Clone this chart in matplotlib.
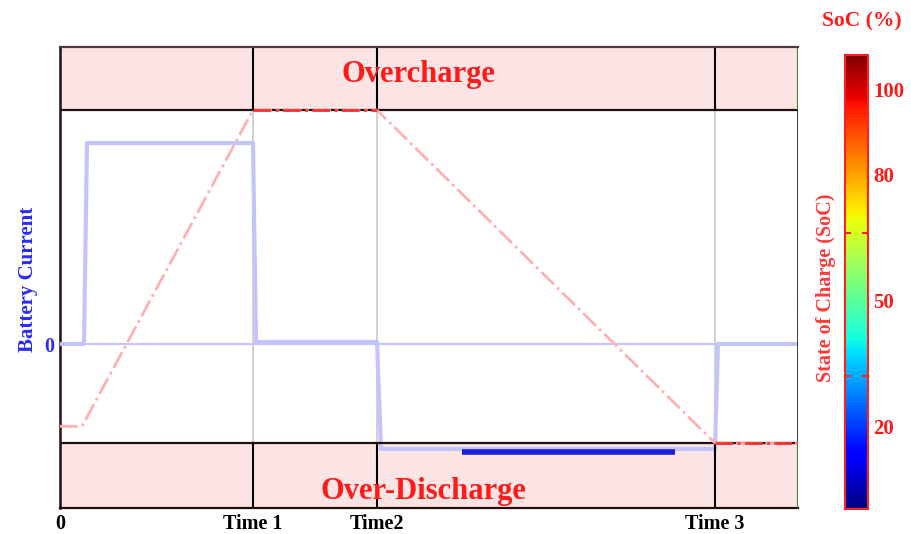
import numpy as np
import matplotlib

matplotlib.use("Agg")
import matplotlib.pyplot as plt
from matplotlib.colors import Normalize

plt.rcParams["font.family"] = ["Liberation Serif", "DejaVu Serif"]
plt.rcParams["font.weight"] = "bold"

# ---- data ----
time_marks = [0, 1.93, 3.17, 6.55]
time_labels = ["0", "Time 1", "Time2", "Time 3"]
t_end = 7.38

# battery current (normalised, charge = +1)
cur_t = [0, 0.24, 0.27, 1.93, 1.96, 3.17, 3.21, 6.55, 6.58, 7.38]
cur_i = [0, 0, 1.0, 1.0, 0.01, 0.01, -0.522, -0.522, 0.0, 0.0]
deep_t = [4.02, 6.15]
deep_i = [-0.535, -0.535]

# state of charge (%)
soc_t = [0, 0.22, 1.93, 3.17, 6.55, 7.38]
soc_v = [24, 24, 100, 100, 20, 20]
soc_hi, soc_lo = 100, 20

# colorbar
cbar_ticks = [20, 50, 80, 100]
cbar_marks = [32, 66, 100]
cbar_range = (0.5, 108.3)

# current-axis limits: plot area and the two warning bands
i_plot_top, i_plot_bot = 1.164, -0.4925
i_ax_top, i_ax_bot = 1.478, -0.816

band_face = "#fde4e4"
cur_color = "#c4c4fc"
soc_color = "#ffb0b0"

fig = plt.figure(figsize=(9.12, 5.34), dpi=100)
ax = fig.add_axes([0.0658, 0.0487, 0.8092, 0.8633])
ax.set_xlim(0, t_end)
ax.set_ylim(i_ax_bot, i_ax_top)

# warning bands
ax.axhspan(i_plot_top, i_ax_top, facecolor=band_face, edgecolor="none", zorder=0)
ax.axhspan(i_ax_bot, i_plot_bot, facecolor=band_face, edgecolor="none", zorder=0)
for y in (i_plot_top, i_plot_bot):
    ax.axhline(y, color="#201010", lw=1.6, zorder=4)

# vertical time markers: gray in plot area, black in bands
for t in time_marks[1:]:
    ax.vlines(t, i_plot_bot, i_plot_top, color="#c8c8c8", lw=1.2, zorder=1)
    ax.vlines(t, i_plot_top, i_ax_top, color="black", lw=1.5, zorder=4)
    ax.vlines(t, i_ax_bot, i_plot_bot, color="black", lw=1.5, zorder=4)
ax.vlines(t_end, i_plot_bot, i_plot_top, color="black", lw=1.8, zorder=4)
ax.vlines(t_end, i_plot_top, i_ax_top, color="#3a8a2a", lw=1.5, zorder=4)
ax.vlines(t_end, i_ax_bot, i_plot_bot, color="#3a8a2a", lw=1.5, zorder=4)

# zero line and current trace
ax.axhline(0, color=cur_color, lw=1.5, zorder=2)
ax.plot(cur_t, cur_i, color=cur_color, lw=3, zorder=3, solid_joinstyle="round")
ax.plot(deep_t, deep_i, color="#1c1cdc", lw=4, zorder=3, solid_capstyle="butt")

for s in ("top", "right"):
    ax.spines[s].set_visible(False)
ax.spines["left"].set_linewidth(1.8)
ax.spines["left"].set_color("#201010")
ax.spines["bottom"].set_linewidth(1.6)
ax.spines["bottom"].set_color("#201010")
ax.plot([0, t_end], [i_ax_top, i_ax_top], color="#503838", lw=1.6, zorder=4, clip_on=False)

ax.set_xticks(time_marks)
ax.set_xticklabels(time_labels, fontsize=14.5, fontweight="bold")
ax.set_yticks([0])
ax.set_yticklabels(["0"], fontsize=14.5, fontweight="bold", color="#2a2aff")
ax.tick_params(length=0, pad=4)
ax.set_ylabel("Battery Current", color="#2a2aff", fontsize=15, fontweight="bold")
ax.yaxis.set_label_coords(-0.03, 0.497)

ax.text(t_end * 0.486, (i_plot_top + i_ax_top) / 2 + 0.02, "Overcharge", color="#ff1a1a",
        fontsize=22, fontweight="bold", ha="center", va="center", zorder=5)
ax.text(t_end * 0.492, i_ax_bot + 0.08, "Over-Discharge", color="#ff1a1a",
        fontsize=22, fontweight="bold", ha="center", va="center", zorder=5)

# state of charge on twin axis
ax2 = ax.twinx()
px_per = (i_plot_top - i_plot_bot) / (soc_hi - soc_lo)
ax2.set_ylim(soc_lo - (i_plot_bot - i_ax_bot) / px_per, soc_hi + (i_ax_top - i_plot_top) / px_per)
ax2.plot(soc_t, soc_v, color=soc_color, lw=2, ls="-.", zorder=5)
ax2.plot(soc_t[2:4], soc_v[2:4], color="#ff3030", lw=2, ls="-.", zorder=6)
ax2.plot(soc_t[4:6], soc_v[4:6], color="#ff3030", lw=2, ls="-.", zorder=6)
ax2.set_yticks([])
for s in ax2.spines.values():
    s.set_visible(False)
ax2.set_ylabel("State of Charge (SoC)", color="#ff3a3a", fontsize=14.5, fontweight="bold")
ax2.yaxis.set_label_coords(1.024, 0.477)

# colorbar
cax = fig.add_axes([0.9265, 0.0468, 0.0252, 0.8502])
norm = Normalize(*cbar_range)
cb = fig.colorbar(plt.cm.ScalarMappable(norm=norm, cmap="jet"), cax=cax)
cb.outline.set_edgecolor("#ff2020")
cb.outline.set_linewidth(1.5)
cb.set_ticks(cbar_ticks)
cb.set_ticklabels([str(v) for v in cbar_ticks])
cax.tick_params(length=0, labelsize=15, labelcolor="#ff1a1a", pad=4)
for lbl in cax.get_yticklabels():
    lbl.set_fontweight("bold")
cax.set_yticks(cbar_marks, minor=True)
cax.tick_params(which="minor", length=4, width=1.5, color="#ff2020",
                direction="in", left=True, right=True)
fig.text(0.945, 0.96, "SoC (%)", color="#ff1a1a", fontsize=15.5, fontweight="bold",
         ha="center", va="center")

fig.savefig("out.png", dpi=100)
